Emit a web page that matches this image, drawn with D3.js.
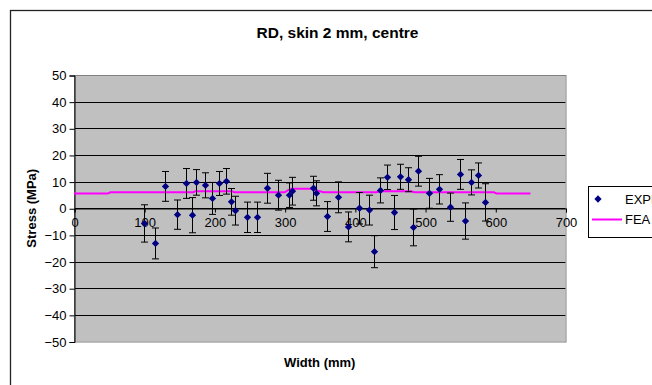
<!DOCTYPE html>
<html>
<head>
<meta charset="utf-8">
<script src="https://cdn.jsdelivr.net/npm/d3@7"></script>
<style>
  html, body { margin: 0; padding: 0; background: #fff; overflow: hidden; }
  svg { display: block; font-family: "Liberation Sans", Arial, sans-serif; }
</style>
</head>
<body>
<svg id="chart" width="652" height="385"></svg>
<script>
// Measured stress across the width (experimental points with error bars)
const expWidth = [100,116,130,146,160,168,174,186,196,206,216,223,230,246,260,275,290,306,310,340,344,360,376,390,406,420,427,436,446,456,465,475,483,490,505,520,536,550,557,566,576,585];
const expStress = [-5.7,-13.2,8.2,-2.4,9.3,-2.6,9.7,8.6,3.7,9.3,10.1,2.4,-0.9,-3.4,-3.4,7.5,4.9,4.9,6.4,7.5,5.6,-3.1,4.1,-7.0,0,-0.7,-16.3,6.7,11.6,-1.6,11.8,10.7,-7.2,13.9,5.6,7.1,0.4,12.7,-4.8,9.7,12.3,2.2];
const expError = [7.0,5.8,5.6,5.5,5.6,6.6,4.8,4.7,6.0,4.5,4.8,5.0,5.4,5.7,5.7,5.6,5.6,4.6,5.2,4.5,4.7,5.6,5.8,5.6,5.9,5.6,6.0,4.7,4.6,6.4,4.7,4.5,6.9,5.6,5.6,5.5,5.3,5.6,6.8,4.7,4.7,7.0];

// Finite element prediction along the width
const feaWidth  = [0,48,52,170,173,225,228,300,305,310,340,345,355,430,438,480,485,598,602,650];
const feaStress = [5.5,5.5,6.0,6.0,6.4,6.4,6.0,6.0,6.8,7.3,7.3,6.8,6.0,6.0,6.4,6.4,6.0,6.0,5.5,5.5];

const xTicks = [0,100,200,300,400,500,600,700];
const yTicks = [-50,-40,-30,-20,-10,0,10,20,30,40,50];

const titleText = "RD, skin 2 mm, centre";
const xTitle = "Width (mm)";
const yTitle = "Stress (MPa)";
const seriesNames = ["EXPERIMENTAL", "FEA"];

const svg = d3.select("#chart");

// Outer chart frame (runs past the right and bottom edges of the view)
svg.append("rect")
  .attr("x", 10.5).attr("y", 10.5)
  .attr("width", 700).attr("height", 500)
  .attr("fill", "#fff").attr("stroke", "#222").attr("stroke-width", 1.3);

const plot = { left: 74, right: 565.5, top: 75, bottom: 341.5 };
const x = d3.scaleLinear().domain([0, 700]).range([plot.left, plot.right]);
const y = d3.scaleLinear().domain([-50, 50]).range([plot.bottom, plot.top]);

// Plot area background
svg.append("rect")
  .attr("x", plot.left).attr("y", plot.top)
  .attr("width", plot.right - plot.left).attr("height", plot.bottom - plot.top)
  .attr("fill", "#c0c0c0");

// Horizontal gridlines
svg.append("g").selectAll("line")
  .data(yTicks.filter(v => v > -50 && v < 50))
  .join("line")
  .attr("x1", plot.left).attr("x2", plot.right)
  .attr("y1", d => Math.round(y(d)) + 0.5).attr("y2", d => Math.round(y(d)) + 0.5)
  .attr("stroke", "#000").attr("stroke-width", 1);

// Plot area border (grey)
svg.append("rect")
  .attr("x", plot.left + 0.5).attr("y", plot.top + 0.5)
  .attr("width", plot.right - plot.left).attr("height", plot.bottom - plot.top)
  .attr("fill", "none").attr("stroke", "#808080").attr("stroke-width", 1);

// Y axis
const yAxis = d3.axisLeft(y).tickValues(yTicks).tickSize(5).tickPadding(3).tickFormat(d3.format("d"));
const yg = svg.append("g").attr("transform", `translate(${plot.left + 0.5},0.5)`).call(yAxis);
yg.select(".domain").attr("stroke", "#000");
yg.selectAll(".tick line").attr("stroke", "#000");
yg.selectAll(".tick text").attr("font-size", 13).attr("fill", "#000")
  .attr("font-family", "Liberation Sans, Arial, sans-serif");

// X axis drawn along y = 0
const xAxis = d3.axisBottom(x).tickValues(xTicks).tickSize(4).tickPadding(5).tickFormat(d3.format("d"));
const xg = svg.append("g").attr("transform", `translate(0.5,${Math.round(y(0)) + 0.5})`).call(xAxis);
xg.select(".domain").attr("stroke", "#000");
xg.selectAll(".tick line").attr("stroke", "#000");
xg.selectAll(".tick text").attr("font-size", 13).attr("fill", "#000")
  .attr("font-family", "Liberation Sans, Arial, sans-serif");

// FEA line
const line = d3.line().x(d => x(d[0])).y(d => y(d[1]));
svg.append("path")
  .datum(feaWidth.map((w, i) => [w, feaStress[i]]))
  .attr("d", line)
  .attr("fill", "none").attr("stroke", "#ff00ff").attr("stroke-width", 2);

// Experimental error bars
const pts = expWidth.map((w, i) => ({ w, s: expStress[i], e: expError[i] }));
const eb = svg.append("g").attr("stroke", "#000").attr("stroke-width", 1);
const capW = 3.5;
pts.forEach(p => {
  const cx = Math.round(x(p.w)) + 0.5;
  const yTop = y(p.s + p.e), yBot = y(p.s - p.e);
  eb.append("line").attr("x1", cx).attr("x2", cx).attr("y1", yTop).attr("y2", yBot);
  eb.append("line").attr("x1", cx - capW).attr("x2", cx + capW).attr("y1", yTop).attr("y2", yTop);
  eb.append("line").attr("x1", cx - capW).attr("x2", cx + capW).attr("y1", yBot).attr("y2", yBot);
});

// Experimental markers (diamonds)
const diamond = d3.symbol().type(d3.symbolDiamond2).size(34);
svg.append("g").selectAll("path")
  .data(pts)
  .join("path")
  .attr("transform", d => `translate(${Math.round(x(d.w)) + 0.5},${y(d.s)})`)
  .attr("d", diamond)
  .attr("fill", "#000080");

// Titles
svg.append("text")
  .attr("x", 337.5).attr("y", 38)
  .attr("text-anchor", "middle")
  .attr("font-size", 15.5).attr("font-weight", "bold")
  .text(titleText);

svg.append("text")
  .attr("x", (plot.left + plot.right) / 2).attr("y", 367)
  .attr("text-anchor", "middle")
  .attr("font-size", 13).attr("font-weight", "bold")
  .text(xTitle);

svg.append("text")
  .attr("transform", `translate(36,${(plot.top + plot.bottom) / 2}) rotate(-90)`)
  .attr("text-anchor", "middle")
  .attr("font-size", 13).attr("font-weight", "bold")
  .text(yTitle);

// Legend
const lg = svg.append("g");
lg.append("rect")
  .attr("x", 588.5).attr("y", 186.5)
  .attr("width", 110).attr("height", 51)
  .attr("fill", "#fff").attr("stroke", "#000").attr("stroke-width", 1);
lg.append("path")
  .attr("transform", "translate(598,199)")
  .attr("d", diamond)
  .attr("fill", "#000080");
lg.append("text")
  .attr("x", 625).attr("y", 203.5)
  .attr("font-size", 13)
  .text(seriesNames[0]);
lg.append("line")
  .attr("x1", 592).attr("x2", 622).attr("y1", 219.5).attr("y2", 219.5)
  .attr("stroke", "#ff00ff").attr("stroke-width", 2);
lg.append("text")
  .attr("x", 625).attr("y", 224)
  .attr("font-size", 13)
  .text(seriesNames[1]);
</script>
</body>
</html>
